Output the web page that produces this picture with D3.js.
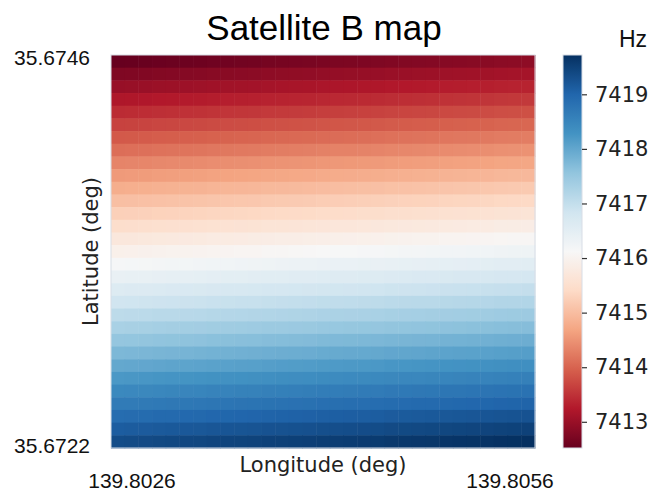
<!DOCTYPE html>
<html>
<head>
<meta charset="utf-8">
<script src="https://cdn.jsdelivr.net/npm/d3@7"></script>
<style>
  body { margin: 0; background: #fff; }
  svg { display: block; }
</style>
</head>
<body>
<div class="vis"></div>
<script>
// frequency (Hz) at the west edge of each latitude row, north -> south
var rowBase = [
  7412.52, 7412.75, 7412.98, 7413.20, 7413.43, 7413.66, 7413.89, 7414.11,
  7414.34, 7414.57, 7414.80, 7415.02, 7415.25, 7415.48, 7415.71, 7415.93,
  7416.16, 7416.39, 7416.62, 7416.84, 7417.07, 7417.30, 7417.53, 7417.75,
  7417.98, 7418.21, 7418.44, 7418.66, 7418.89, 7419.12, 7419.35
];
// extra shift (Hz) of each longitude column, west -> east
var colShift = [
  0.00, 0.01, 0.02, 0.04, 0.05, 0.06, 0.07, 0.09, 0.10, 0.11, 0.12,
  0.14, 0.15, 0.16, 0.17, 0.19, 0.20, 0.21, 0.22, 0.23, 0.25, 0.26,
  0.27, 0.28, 0.30, 0.31, 0.32, 0.33, 0.35, 0.36, 0.37
];
var latLabels = ["35.6746", "35.6722"];
var lonLabels = ["139.8026", "139.8056"];
var cbTicks = [7413, 7414, 7415, 7416, 7417, 7418, 7419];
var cbRange = [7412.52, 7419.72];

var W = 653, H = 493;
var map = { left: 111, right: 535, top: 55, bottom: 448 };
var cb = { left: 563, right: 582 };

var svg = d3.select(".vis").append("svg")
  .attr("width", W)
  .attr("height", H);

// matplotlib style RdBu (linear between the 11 brewer colours)
var rdbu = d3.schemeRdBu[11];
var color = d3.scaleLinear()
  .domain(d3.range(11).map(function(i){ return cbRange[0] + (cbRange[1] - cbRange[0]) * i / 10; }))
  .range(rdbu)
  .interpolate(d3.interpolateRgb)
  .clamp(true);

var cells = [];
rowBase.forEach(function(v, r){
  colShift.forEach(function(s, c){
    cells.push({ r: r, c: c, v: v + s });
  });
});

var x = d3.scaleBand().domain(d3.range(colShift.length)).range([map.left, map.right]);
var y = d3.scaleBand().domain(d3.range(rowBase.length)).range([map.top, map.bottom]);

svg.append("g")
  .selectAll("rect")
  .data(cells)
  .enter()
  .append("rect")
    .attr("x", function(d){ return x(d.c); })
    .attr("y", function(d){ return y(d.r); })
    .attr("width", x.bandwidth() + 0.5)
    .attr("height", y.bandwidth() + 0.5)
    .attr("fill", function(d){ return color(d.v); });

svg.append("rect")
  .attr("x", map.left).attr("y", map.top)
  .attr("width", map.right - map.left).attr("height", map.bottom - map.top)
  .attr("fill", "none").attr("stroke", "#d8dde6").attr("stroke-width", 1);

// colour bar
var defs = svg.append("defs");
var grad = defs.append("linearGradient")
  .attr("id", "cbgrad")
  .attr("x1", "0").attr("y1", "1").attr("x2", "0").attr("y2", "0");
grad.selectAll("stop")
  .data(d3.range(0, 1.0001, 0.02))
  .enter()
  .append("stop")
    .attr("offset", function(t){ return t; })
    .attr("stop-color", function(t){ return color(cbRange[0] + t * (cbRange[1] - cbRange[0])); });

svg.append("rect")
  .attr("x", cb.left).attr("y", map.top)
  .attr("width", cb.right - cb.left).attr("height", map.bottom - map.top)
  .attr("fill", "url(#cbgrad)")
  .attr("stroke", "#d8dde6").attr("stroke-width", 1);

var cbScale = d3.scaleLinear().domain(cbRange).range([map.bottom, map.top]);
var cbAxis = svg.append("g")
  .attr("transform", "translate(" + cb.right + ",0)")
  .call(d3.axisRight(cbScale).tickValues(cbTicks).tickSize(5).tickPadding(8).tickFormat(d3.format("d")));
cbAxis.select(".domain").remove();
cbAxis.selectAll(".tick line").attr("stroke", "#333").attr("stroke-width", 1.2);
cbAxis.selectAll(".tick text")
  .attr("fill", "#222")
  .style("font-family", "'DejaVu Sans', sans-serif")
  .style("font-size", "21px");

svg.append("text")
  .attr("x", 633).attr("y", 47)
  .attr("text-anchor", "middle")
  .style("font-family", "'Liberation Sans', Arial, sans-serif")
  .style("font-size", "23px")
  .attr("fill", "#111")
  .text("Hz");

// title
svg.append("text")
  .attr("x", 324).attr("y", 40)
  .attr("text-anchor", "middle")
  .style("font-family", "'Liberation Sans', Arial, sans-serif")
  .style("font-size", "35px")
  .attr("fill", "#000")
  .text("Satellite B map");

// lat / lon end labels
var latPos = d3.scalePoint().domain(latLabels).range([65, 453]);
svg.selectAll(".lat")
  .data(latLabels)
  .enter()
  .append("text")
    .attr("class", "lat")
    .attr("x", 90)
    .attr("y", function(d){ return latPos(d); })
    .attr("text-anchor", "end")
    .style("font-family", "'Liberation Sans', Arial, sans-serif")
    .style("font-size", "21px")
    .attr("fill", "#111")
    .text(function(d){ return d; });

var lonPos = d3.scalePoint().domain(lonLabels).range([132, 510]);
svg.selectAll(".lon")
  .data(lonLabels)
  .enter()
  .append("text")
    .attr("class", "lon")
    .attr("x", function(d){ return lonPos(d); })
    .attr("y", 488)
    .attr("text-anchor", "middle")
    .style("font-family", "'Liberation Sans', Arial, sans-serif")
    .style("font-size", "21px")
    .attr("fill", "#111")
    .text(function(d){ return d; });

// axis titles
svg.append("text")
  .attr("x", (map.left + map.right) / 2).attr("y", 472)
  .attr("text-anchor", "middle")
  .style("font-family", "'DejaVu Sans', sans-serif")
  .style("font-size", "21px")
  .attr("fill", "#222")
  .text("Longitude (deg)");

svg.append("text")
  .attr("transform", "translate(98," + ((map.top + map.bottom) / 2) + ") rotate(-90)")
  .attr("text-anchor", "middle")
  .style("font-family", "'DejaVu Sans', sans-serif")
  .style("font-size", "21px")
  .attr("fill", "#222")
  .text("Latitude (deg)");
</script>
</body>
</html>
